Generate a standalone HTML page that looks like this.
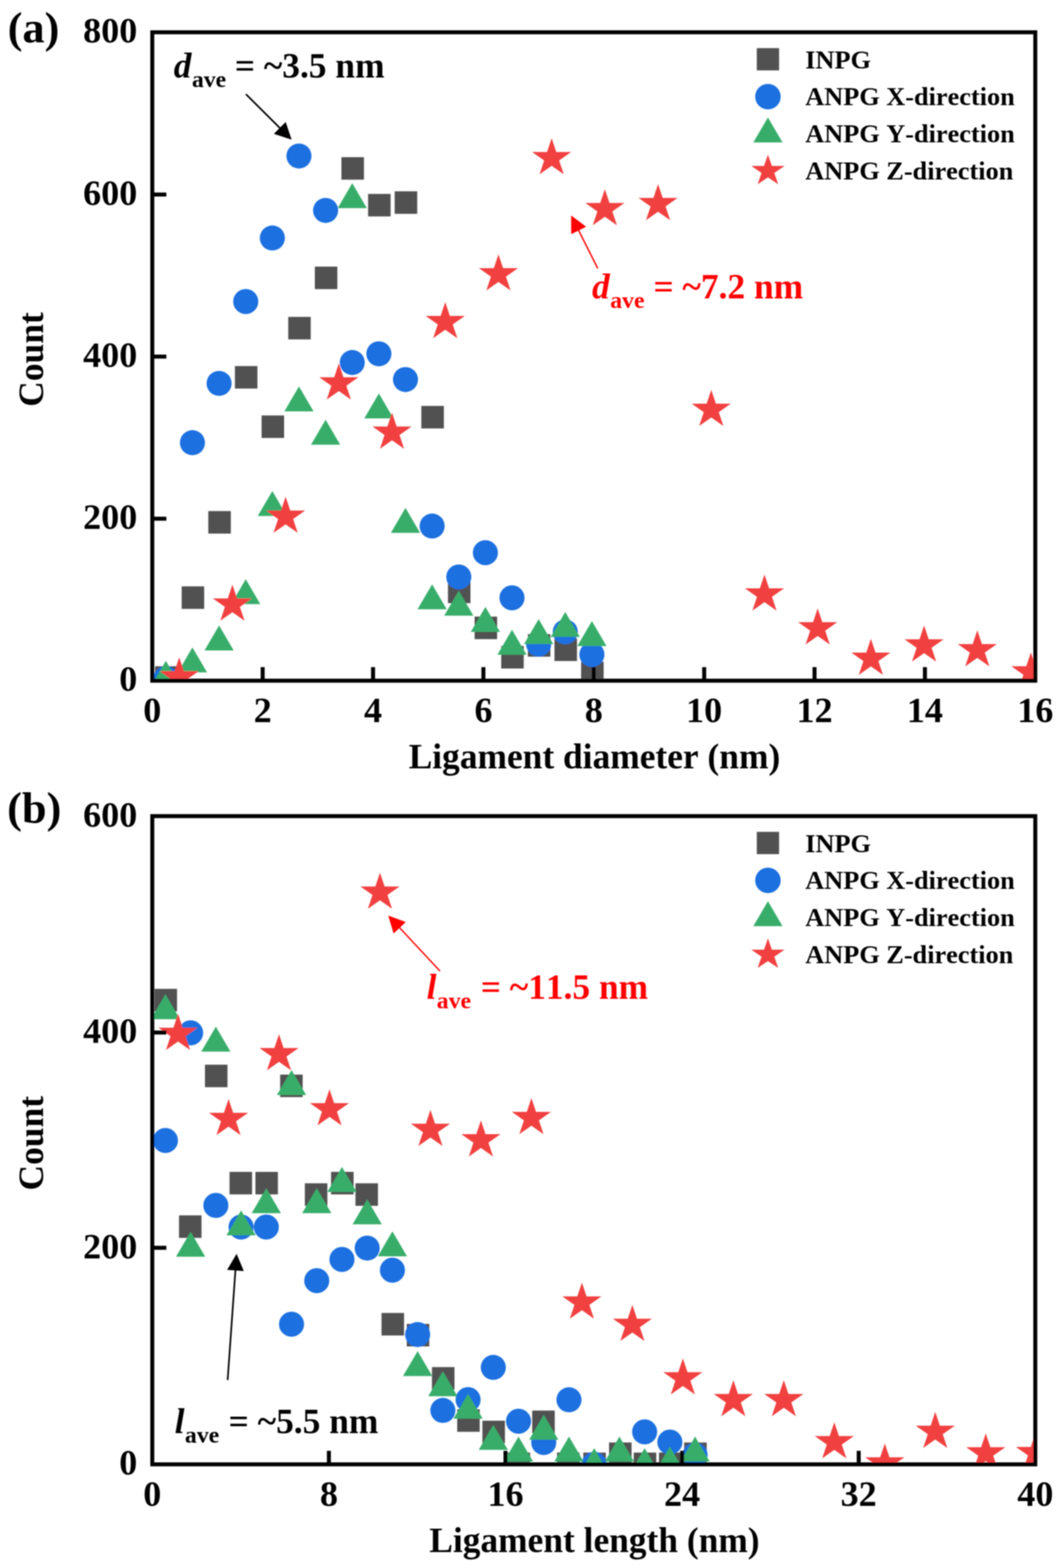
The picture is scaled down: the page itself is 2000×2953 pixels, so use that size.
<!DOCTYPE html>
<html lang="en">
<head>
<meta charset="utf-8">
<title>Ligament diameter and length distributions</title>
<style>
html,body{margin:0;padding:0;background:#fff}
body{width:2000px;height:2953px;overflow:hidden}
svg{display:block}
svg text{font-family:"Liberation Serif",serif;font-weight:bold;font-kerning:none;fill:#000}
svg g[fill] text{fill:inherit}
</style>
</head>
<body>
<svg width="2000" height="2953" viewBox="0 0 2000 2953">
<defs><filter id="soft" x="0" y="0" width="2000" height="2953" filterUnits="userSpaceOnUse"><feGaussianBlur stdDeviation="0.8"/></filter></defs>
<rect width="2000" height="2953" fill="#fff"/>
<g filter="url(#soft)">
<clipPath id="ca"><rect x="286.8" y="60.8" width="1662.9" height="1221.1"/></clipPath>
<clipPath id="cb"><rect x="286.8" y="1537.0" width="1662.9" height="1220.8"/></clipPath>
<g clip-path="url(#ca)"><g fill="#515151"><rect x="292.0" y="1254.8" width="42.4" height="42.4"/><rect x="342.1" y="1104.3" width="42.4" height="42.4"/><rect x="392.3" y="962.5" width="42.4" height="42.4"/><rect x="442.4" y="689.4" width="42.4" height="42.4"/><rect x="492.6" y="782.4" width="42.4" height="42.4"/><rect x="542.8" y="596.8" width="42.4" height="42.4"/><rect x="592.9" y="502.1" width="42.4" height="42.4"/><rect x="643.0" y="296.0" width="42.4" height="42.4"/><rect x="693.2" y="365.2" width="42.4" height="42.4"/><rect x="743.3" y="360.3" width="42.4" height="42.4"/><rect x="793.5" y="764.5" width="42.4" height="42.4"/><rect x="843.6" y="1093.5" width="42.4" height="42.4"/><rect x="893.8" y="1161.3" width="42.4" height="42.4"/><rect x="943.9" y="1216.6" width="42.4" height="42.4"/><rect x="994.1" y="1194.3" width="42.4" height="42.4"/><rect x="1044.2" y="1202.5" width="42.4" height="42.4"/><rect x="1094.4" y="1246.3" width="42.4" height="42.4"/></g>
<g fill="#1a6fdf"><circle cx="312.3" cy="1277.9" r="23.6"/><circle cx="362.4" cy="833.7" r="23.6"/><circle cx="412.6" cy="722.0" r="23.6"/><circle cx="462.8" cy="567.9" r="23.6"/><circle cx="512.9" cy="448.2" r="23.6"/><circle cx="563.0" cy="293.8" r="23.6"/><circle cx="613.2" cy="396.3" r="23.6"/><circle cx="663.4" cy="682.7" r="23.6"/><circle cx="713.5" cy="666.3" r="23.6"/><circle cx="763.6" cy="714.8" r="23.6"/><circle cx="813.8" cy="990.7" r="23.6"/><circle cx="864.0" cy="1086.6" r="23.6"/><circle cx="914.1" cy="1040.9" r="23.6"/><circle cx="964.2" cy="1125.9" r="23.6"/><circle cx="1014.4" cy="1213.0" r="23.6"/><circle cx="1064.5" cy="1190.0" r="23.6"/><circle cx="1114.7" cy="1232.7" r="23.6"/></g>
<g fill="#37ad6b"><polygon points="312.3,1244.5 339.8,1291.5 284.8,1291.5"/><polygon points="362.4,1219.3 389.9,1266.3 334.9,1266.3"/><polygon points="412.6,1178.1 440.1,1225.1 385.1,1225.1"/><polygon points="462.8,1090.8 490.2,1137.8 435.2,1137.8"/><polygon points="512.9,924.8 540.4,971.8 485.4,971.8"/><polygon points="563.0,727.7 590.5,774.7 535.5,774.7"/><polygon points="613.2,790.6 640.7,837.6 585.7,837.6"/><polygon points="663.4,344.9 690.9,391.9 635.9,391.9"/><polygon points="713.5,741.1 741.0,788.1 686.0,788.1"/><polygon points="763.6,956.4 791.1,1003.4 736.1,1003.4"/><polygon points="813.8,1100.4 841.3,1147.4 786.3,1147.4"/><polygon points="864.0,1112.6 891.5,1159.6 836.5,1159.6"/><polygon points="914.1,1143.1 941.6,1190.1 886.6,1190.1"/><polygon points="964.2,1186.1 991.8,1233.1 936.8,1233.1"/><polygon points="1014.4,1165.9 1041.9,1212.9 986.9,1212.9"/><polygon points="1064.5,1152.6 1092.0,1199.6 1037.0,1199.6"/><polygon points="1114.7,1169.7 1142.2,1216.7 1087.2,1216.7"/></g>
<g fill="#f14040"><polygon points="337.5,1238.0 346.2,1264.0 374.3,1264.0 351.6,1280.0 360.3,1306.0 337.5,1290.0 314.7,1306.0 323.4,1280.0 300.7,1264.0 328.8,1264.0"/><polygon points="437.7,1101.1 446.4,1127.1 474.5,1127.1 451.8,1143.1 460.5,1169.1 437.7,1153.1 414.9,1169.1 423.6,1143.1 400.9,1127.1 429.0,1127.1"/><polygon points="537.9,935.5 546.6,961.5 574.7,961.5 552.0,977.5 560.7,1003.5 537.9,987.5 515.1,1003.5 523.8,977.5 501.1,961.5 529.2,961.5"/><polygon points="638.1,684.6 646.8,710.6 674.9,710.6 652.2,726.6 660.9,752.6 638.1,736.6 615.3,752.6 624.0,726.6 601.3,710.6 629.4,710.6"/><polygon points="738.3,777.3 747.0,803.3 775.1,803.3 752.4,819.3 761.1,845.3 738.3,829.3 715.5,845.3 724.2,819.3 701.5,803.3 729.6,803.3"/><polygon points="838.5,569.0 847.2,595.0 875.3,595.0 852.6,611.0 861.3,637.0 838.5,621.0 815.7,637.0 824.4,611.0 801.7,595.0 829.8,595.0"/><polygon points="938.7,479.1 947.4,505.1 975.5,505.1 952.8,521.1 961.5,547.1 938.7,531.1 915.9,547.1 924.6,521.1 901.9,505.1 930.0,505.1"/><polygon points="1038.9,260.2 1047.6,286.2 1075.7,286.2 1053.0,302.2 1061.7,328.2 1038.9,312.2 1016.1,328.2 1024.8,302.2 1002.1,286.2 1030.2,286.2"/><polygon points="1139.1,356.3 1147.8,382.3 1175.9,382.3 1153.2,398.3 1161.9,424.3 1139.1,408.3 1116.3,424.3 1125.0,398.3 1102.3,382.3 1130.4,382.3"/><polygon points="1239.3,346.8 1248.0,372.8 1276.1,372.8 1253.4,388.8 1262.1,414.8 1239.3,398.8 1216.5,414.8 1225.2,388.8 1202.5,372.8 1230.6,372.8"/><polygon points="1339.5,734.2 1348.2,760.2 1376.3,760.2 1353.6,776.2 1362.3,802.2 1339.5,786.2 1316.7,802.2 1325.4,776.2 1302.7,760.2 1330.8,760.2"/><polygon points="1439.7,1082.1 1448.4,1108.1 1476.5,1108.1 1453.8,1124.1 1462.5,1150.1 1439.7,1134.1 1416.9,1150.1 1425.6,1124.1 1402.9,1108.1 1431.0,1108.1"/><polygon points="1539.9,1145.7 1548.6,1171.7 1576.7,1171.7 1554.0,1187.7 1562.7,1213.7 1539.9,1197.7 1517.1,1213.7 1525.8,1187.7 1503.1,1171.7 1531.2,1171.7"/><polygon points="1640.1,1202.9 1648.8,1228.9 1676.9,1228.9 1654.2,1244.9 1662.9,1270.9 1640.1,1254.9 1617.3,1270.9 1626.0,1244.9 1603.3,1228.9 1631.4,1228.9"/><polygon points="1740.3,1178.1 1749.0,1204.1 1777.1,1204.1 1754.4,1220.1 1763.1,1246.1 1740.3,1230.1 1717.5,1246.1 1726.2,1220.1 1703.5,1204.1 1731.6,1204.1"/><polygon points="1840.5,1186.9 1849.2,1212.9 1877.3,1212.9 1854.6,1228.9 1863.3,1254.9 1840.5,1238.9 1817.7,1254.9 1826.4,1228.9 1803.7,1212.9 1831.8,1212.9"/><polygon points="1941.4,1228.8 1950.1,1254.8 1978.2,1254.8 1955.5,1270.8 1964.2,1296.8 1941.4,1280.8 1918.6,1296.8 1927.3,1270.8 1904.6,1254.8 1932.7,1254.8"/></g></g>
<rect x="286.8" y="60.8" width="1662.9" height="1221.1" fill="none" stroke="#000" stroke-width="7.5"/>
<rect x="490.9" y="1256.4" width="7.5" height="25.5" fill="#000"/>
<rect x="698.8" y="1256.4" width="7.5" height="25.5" fill="#000"/>
<rect x="906.6" y="1256.4" width="7.5" height="25.5" fill="#000"/>
<rect x="1114.5" y="1256.4" width="7.5" height="25.5" fill="#000"/>
<rect x="1322.4" y="1256.4" width="7.5" height="25.5" fill="#000"/>
<rect x="1530.2" y="1256.4" width="7.5" height="25.5" fill="#000"/>
<rect x="1738.1" y="1256.4" width="7.5" height="25.5" fill="#000"/>
<rect x="286.8" y="973.1" width="26.5" height="7.5" fill="#000"/>
<rect x="286.8" y="667.8" width="26.5" height="7.5" fill="#000"/>
<rect x="286.8" y="362.6" width="26.5" height="7.5" fill="#000"/>
<g clip-path="url(#cb)"><g fill="#515151"><rect x="291.0" y="1862.3" width="42.4" height="42.4"/><rect x="337.1" y="2288.9" width="42.4" height="42.4"/><rect x="386.0" y="2005.1" width="42.4" height="42.4"/><rect x="432.3" y="2207.0" width="42.4" height="42.4"/><rect x="481.0" y="2207.0" width="42.4" height="42.4"/><rect x="527.6" y="2023.8" width="42.4" height="42.4"/><rect x="574.1" y="2228.5" width="42.4" height="42.4"/><rect x="623.5" y="2207.0" width="42.4" height="42.4"/><rect x="669.4" y="2228.5" width="42.4" height="42.4"/><rect x="718.5" y="2472.7" width="42.4" height="42.4"/><rect x="766.0" y="2493.3" width="42.4" height="42.4"/><rect x="813.5" y="2574.6" width="42.4" height="42.4"/><rect x="861.0" y="2654.1" width="42.4" height="42.4"/><rect x="908.5" y="2675.6" width="42.4" height="42.4"/><rect x="956.0" y="2735.6" width="42.4" height="42.4"/><rect x="1002.3" y="2656.5" width="42.4" height="42.4"/><rect x="1049.0" y="2735.6" width="42.4" height="42.4"/><rect x="1098.5" y="2735.6" width="42.4" height="42.4"/><rect x="1147.0" y="2716.6" width="42.4" height="42.4"/><rect x="1193.5" y="2735.6" width="42.4" height="42.4"/><rect x="1241.0" y="2735.6" width="42.4" height="42.4"/><rect x="1288.5" y="2716.6" width="42.4" height="42.4"/></g>
<g fill="#1a6fdf"><circle cx="311.5" cy="2147.9" r="23.6"/><circle cx="359.0" cy="1945.1" r="23.6"/><circle cx="406.5" cy="2270.1" r="23.6"/><circle cx="454.0" cy="2310.9" r="23.6"/><circle cx="501.5" cy="2310.9" r="23.6"/><circle cx="549.0" cy="2493.9" r="23.6"/><circle cx="596.5" cy="2411.9" r="23.6"/><circle cx="644.0" cy="2371.9" r="23.6"/><circle cx="691.5" cy="2350.5" r="23.6"/><circle cx="739.0" cy="2392.1" r="23.6"/><circle cx="786.5" cy="2513.3" r="23.6"/><circle cx="834.0" cy="2656.2" r="23.6"/><circle cx="881.5" cy="2635.9" r="23.6"/><circle cx="929.0" cy="2575.2" r="23.6"/><circle cx="976.5" cy="2676.6" r="23.6"/><circle cx="1024.0" cy="2716.6" r="23.6"/><circle cx="1071.5" cy="2636.2" r="23.6"/><circle cx="1119.0" cy="2757.9" r="23.6"/><circle cx="1214.0" cy="2696.6" r="23.6"/><circle cx="1261.5" cy="2715.9" r="23.6"/><circle cx="1309.0" cy="2740.0" r="23.6"/></g>
<g fill="#37ad6b"><polygon points="311.5,1872.6 339.0,1919.6 284.0,1919.6"/><polygon points="359.0,2319.7 386.5,2366.7 331.5,2366.7"/><polygon points="406.5,1933.6 434.0,1980.6 379.0,1980.6"/><polygon points="454.0,2279.6 481.5,2326.6 426.5,2326.6"/><polygon points="501.5,2237.7 529.0,2284.7 474.0,2284.7"/><polygon points="549.0,2015.2 576.5,2062.2 521.5,2062.2"/><polygon points="596.5,2237.7 624.0,2284.7 569.0,2284.7"/><polygon points="644.0,2197.7 671.5,2244.7 616.5,2244.7"/><polygon points="691.5,2258.7 719.0,2305.7 664.0,2305.7"/><polygon points="739.0,2318.9 766.5,2365.9 711.5,2365.9"/><polygon points="786.5,2544.6 814.0,2591.6 759.0,2591.6"/><polygon points="834.0,2582.5 861.5,2629.5 806.5,2629.5"/><polygon points="881.5,2624.8 909.0,2671.8 854.0,2671.8"/><polygon points="929.0,2683.5 956.5,2730.5 901.5,2730.5"/><polygon points="976.5,2705.4 1004.0,2752.4 949.0,2752.4"/><polygon points="1024.0,2664.4 1051.5,2711.4 996.5,2711.4"/><polygon points="1071.5,2705.4 1099.0,2752.4 1044.0,2752.4"/><polygon points="1119.0,2727.3 1146.5,2774.3 1091.5,2774.3"/><polygon points="1166.5,2705.4 1194.0,2752.4 1139.0,2752.4"/><polygon points="1214.0,2727.3 1241.5,2774.3 1186.5,2774.3"/><polygon points="1261.5,2724.3 1289.0,2771.3 1234.0,2771.3"/><polygon points="1309.0,2705.4 1336.5,2752.4 1281.5,2752.4"/></g>
<g fill="#f14040"><polygon points="335.3,1909.6 344.0,1935.6 372.1,1935.6 349.4,1951.6 358.1,1977.6 335.3,1961.6 312.5,1977.6 321.2,1951.6 298.5,1935.6 326.6,1935.6"/><polygon points="430.4,2069.7 439.1,2095.7 467.2,2095.7 444.4,2111.7 453.1,2137.7 430.4,2121.7 407.6,2137.7 416.3,2111.7 393.5,2095.7 421.7,2095.7"/><polygon points="525.4,1947.7 534.1,1973.7 562.3,1973.7 539.5,1989.7 548.2,2015.7 525.4,1999.7 502.7,2015.7 511.4,1989.7 488.6,1973.7 516.7,1973.7"/><polygon points="620.5,2051.4 629.2,2077.4 657.3,2077.4 634.6,2093.4 643.3,2119.4 620.5,2103.4 597.7,2119.4 606.4,2093.4 583.7,2077.4 611.8,2077.4"/><polygon points="715.6,1643.6 724.3,1669.6 752.4,1669.6 729.7,1685.6 738.3,1711.6 715.6,1695.6 692.8,1711.6 701.5,1685.6 678.7,1669.6 706.9,1669.6"/><polygon points="810.6,2090.3 819.3,2116.3 847.5,2116.3 824.7,2132.3 833.4,2158.3 810.6,2142.3 787.9,2158.3 796.6,2132.3 773.8,2116.3 802.0,2116.3"/><polygon points="905.7,2109.9 914.4,2135.9 942.6,2135.9 919.8,2151.9 928.5,2177.9 905.7,2161.9 883.0,2177.9 891.6,2151.9 868.9,2135.9 897.0,2135.9"/><polygon points="1000.8,2068.0 1009.5,2094.0 1037.6,2094.0 1014.9,2110.0 1023.6,2136.0 1000.8,2120.0 978.0,2136.0 986.7,2110.0 964.0,2094.0 992.1,2094.0"/><polygon points="1095.9,2415.5 1104.6,2441.5 1132.7,2441.5 1109.9,2457.5 1118.6,2483.5 1095.9,2467.5 1073.1,2483.5 1081.8,2457.5 1059.0,2441.5 1087.2,2441.5"/><polygon points="1190.9,2457.4 1199.6,2483.4 1227.8,2483.4 1205.0,2499.4 1213.7,2525.4 1190.9,2509.4 1168.2,2525.4 1176.9,2499.4 1154.1,2483.4 1182.2,2483.4"/><polygon points="1286.0,2558.3 1294.7,2584.3 1322.8,2584.3 1300.1,2600.3 1308.8,2626.3 1286.0,2610.3 1263.2,2626.3 1271.9,2600.3 1249.2,2584.3 1277.3,2584.3"/><polygon points="1381.1,2599.2 1389.8,2625.2 1417.9,2625.2 1395.1,2641.2 1403.8,2667.2 1381.1,2651.2 1358.3,2667.2 1367.0,2641.2 1344.2,2625.2 1372.4,2625.2"/><polygon points="1476.1,2599.2 1484.8,2625.2 1513.0,2625.2 1490.2,2641.2 1498.9,2667.2 1476.1,2651.2 1453.4,2667.2 1462.1,2641.2 1439.3,2625.2 1467.4,2625.2"/><polygon points="1571.2,2678.6 1579.9,2704.6 1608.0,2704.6 1585.3,2720.6 1594.0,2746.6 1571.2,2730.6 1548.4,2746.6 1557.1,2720.6 1534.4,2704.6 1562.5,2704.6"/><polygon points="1666.3,2718.5 1675.0,2744.5 1703.1,2744.5 1680.4,2760.5 1689.0,2786.5 1666.3,2770.5 1643.5,2786.5 1652.2,2760.5 1629.4,2744.5 1657.6,2744.5"/><polygon points="1761.3,2659.1 1770.0,2685.1 1798.2,2685.1 1775.4,2701.1 1784.1,2727.1 1761.3,2711.1 1738.6,2727.1 1747.3,2701.1 1724.5,2685.1 1752.7,2685.1"/><polygon points="1856.4,2699.6 1865.1,2725.6 1893.3,2725.6 1870.5,2741.6 1879.2,2767.6 1856.4,2751.6 1833.7,2767.6 1842.3,2741.6 1819.6,2725.6 1847.7,2725.6"/><polygon points="1950.0,2699.0 1958.7,2725.0 1986.8,2725.0 1964.1,2741.0 1972.8,2767.0 1950.0,2751.0 1927.2,2767.0 1935.9,2741.0 1913.2,2725.0 1941.3,2725.0"/></g></g>
<rect x="286.8" y="1537.0" width="1662.9" height="1220.8" fill="none" stroke="#000" stroke-width="7.5"/>
<rect x="615.6" y="2732.3" width="7.5" height="25.5" fill="#000"/>
<rect x="948.2" y="2732.3" width="7.5" height="25.5" fill="#000"/>
<rect x="1280.8" y="2732.3" width="7.5" height="25.5" fill="#000"/>
<rect x="1613.4" y="2732.3" width="7.5" height="25.5" fill="#000"/>
<rect x="286.8" y="2346.2" width="26.5" height="7.5" fill="#000"/>
<rect x="286.8" y="1940.8" width="26.5" height="7.5" fill="#000"/>
<g fill="#515151"><rect x="1425.2" y="90.6" width="42.0" height="42.0"/></g>
<g fill="#1a6fdf"><circle cx="1446.2" cy="182.0" r="24.0"/></g>
<g fill="#37ad6b"><polygon points="1446.2,221.2 1473.7,268.2 1418.7,268.2"/></g>
<g fill="#f14040"><polygon points="1446.2,291.3 1453.6,312.6 1477.5,312.6 1458.2,325.7 1465.6,347.0 1446.2,333.9 1426.8,347.0 1434.2,325.7 1414.9,312.6 1438.8,312.6"/></g>
<text x="1516.5" y="128.7" font-size="49.50">INPG</text>
<text x="1516.5" y="198.0" font-size="49.50">ANPG X-direction</text>
<text x="1516.5" y="268.1" font-size="49.50">ANPG Y-direction</text>
<text x="1516.5" y="337.5" font-size="49.50">ANPG Z-direction</text>
<g fill="#515151"><rect x="1425.2" y="1566.6" width="42.0" height="42.0"/></g>
<g fill="#1a6fdf"><circle cx="1446.2" cy="1658.0" r="24.0"/></g>
<g fill="#37ad6b"><polygon points="1446.2,1697.2 1473.7,1744.2 1418.7,1744.2"/></g>
<g fill="#f14040"><polygon points="1446.2,1767.3 1453.6,1788.6 1477.5,1788.6 1458.2,1801.7 1465.6,1823.0 1446.2,1809.9 1426.8,1823.0 1434.2,1801.7 1414.9,1788.6 1438.8,1788.6"/></g>
<text x="1516.5" y="1604.7" font-size="49.50">INPG</text>
<text x="1516.5" y="1674.0" font-size="49.50">ANPG X-direction</text>
<text x="1516.5" y="1744.1" font-size="49.50">ANPG Y-direction</text>
<text x="1516.5" y="1813.5" font-size="49.50">ANPG Z-direction</text>
<text x="258.5" y="1301.4" font-size="68.00" text-anchor="end">0</text>
<text x="258.5" y="996.4" font-size="68.00" text-anchor="end">200</text>
<text x="258.5" y="691.0" font-size="68.00" text-anchor="end">400</text>
<text x="258.5" y="385.8" font-size="68.00" text-anchor="end">600</text>
<text x="258.5" y="80.3" font-size="68.00" text-anchor="end">800</text>
<text x="258.5" y="2777.3" font-size="68.00" text-anchor="end">0</text>
<text x="258.5" y="2369.5" font-size="68.00" text-anchor="end">200</text>
<text x="258.5" y="1964.1" font-size="68.00" text-anchor="end">400</text>
<text x="258.5" y="1556.5" font-size="68.00" text-anchor="end">600</text>
<text x="286.8" y="1360.2" font-size="68.00" text-anchor="middle">0</text>
<text x="494.7" y="1360.2" font-size="68.00" text-anchor="middle">2</text>
<text x="702.5" y="1360.2" font-size="68.00" text-anchor="middle">4</text>
<text x="910.4" y="1360.2" font-size="68.00" text-anchor="middle">6</text>
<text x="1118.2" y="1360.2" font-size="68.00" text-anchor="middle">8</text>
<text x="1326.1" y="1360.2" font-size="68.00" text-anchor="middle">10</text>
<text x="1534.0" y="1360.2" font-size="68.00" text-anchor="middle">12</text>
<text x="1741.8" y="1360.2" font-size="68.00" text-anchor="middle">14</text>
<text x="1949.7" y="1360.2" font-size="68.00" text-anchor="middle">16</text>
<text x="286.8" y="2836.3" font-size="68.00" text-anchor="middle">0</text>
<text x="619.4" y="2836.3" font-size="68.00" text-anchor="middle">8</text>
<text x="952.0" y="2836.3" font-size="68.00" text-anchor="middle">16</text>
<text x="1284.5" y="2836.3" font-size="68.00" text-anchor="middle">24</text>
<text x="1617.1" y="2836.3" font-size="68.00" text-anchor="middle">32</text>
<text x="1949.7" y="2836.3" font-size="68.00" text-anchor="middle">40</text>
<text x="1119.5" y="1447.1" font-size="66.67" text-anchor="middle">Ligament diameter (nm)</text>
<text x="1119.5" y="2923.3" font-size="66.67" text-anchor="middle">Ligament length (nm)</text>
<text transform="translate(81.0,677.0) rotate(-90)" font-size="66.67" text-anchor="middle">Count</text>
<text transform="translate(81.0,2153.0) rotate(-90)" font-size="66.67" text-anchor="middle">Count</text>
<text x="14.5" y="79.5" font-size="83.50">(a)</text>
<text x="13.5" y="1548.5" font-size="83.50">(b)</text>
<g fill="#000"><text x="327.3" y="145.6" font-size="66.67" font-style="italic">d</text><text x="361.4" y="163.6" font-size="44.70">ave</text><text x="442.3" y="145.6" font-size="66.67">= ~3.5 nm</text></g>
<g fill="#ff0000"><text x="1115.0" y="561.9" font-size="66.67" font-style="italic">d</text><text x="1149.2" y="579.9" font-size="44.70">ave</text><text x="1230.7" y="561.9" font-size="66.67">= ~7.2 nm</text></g>
<g fill="#ff0000"><text x="803.5" y="1880.6" font-size="66.67" font-style="italic">l</text><text x="822.6" y="1898.6" font-size="44.70">ave</text><text x="905.4" y="1880.6" font-size="66.67">= ~11.5 nm</text></g>
<g fill="#000"><text x="329.0" y="2699.1" font-size="66.67" font-style="italic">l</text><text x="348.3" y="2717.1" font-size="44.70">ave</text><text x="430.6" y="2699.1" font-size="66.67">= ~5.5 nm</text></g>
<line x1="463.1" y1="177.3" x2="528.3" y2="242.3" stroke="#000" stroke-width="3.1"/><polygon fill="#000" points="549.2,263.1 515.8,252.0 538.0,229.7"/>
<line x1="1125.8" y1="505.7" x2="1088.8" y2="432.2" stroke="#ff0000" stroke-width="2.6"/><polygon fill="#ff0000" points="1075.6,405.8 1103.8,426.9 1075.7,441.0"/>
<line x1="828.7" y1="1828.9" x2="751.3" y2="1745.9" stroke="#ff0000" stroke-width="2.6"/><polygon fill="#ff0000" points="731.2,1724.3 764.2,1736.6 741.2,1758.1"/>
<line x1="428.7" y1="2599.0" x2="443.5" y2="2390.6" stroke="#000" stroke-width="3.1"/><polygon fill="#000" points="445.6,2361.2 459.1,2393.7 427.7,2391.5"/>
</g>
</svg>
</body>
</html>
